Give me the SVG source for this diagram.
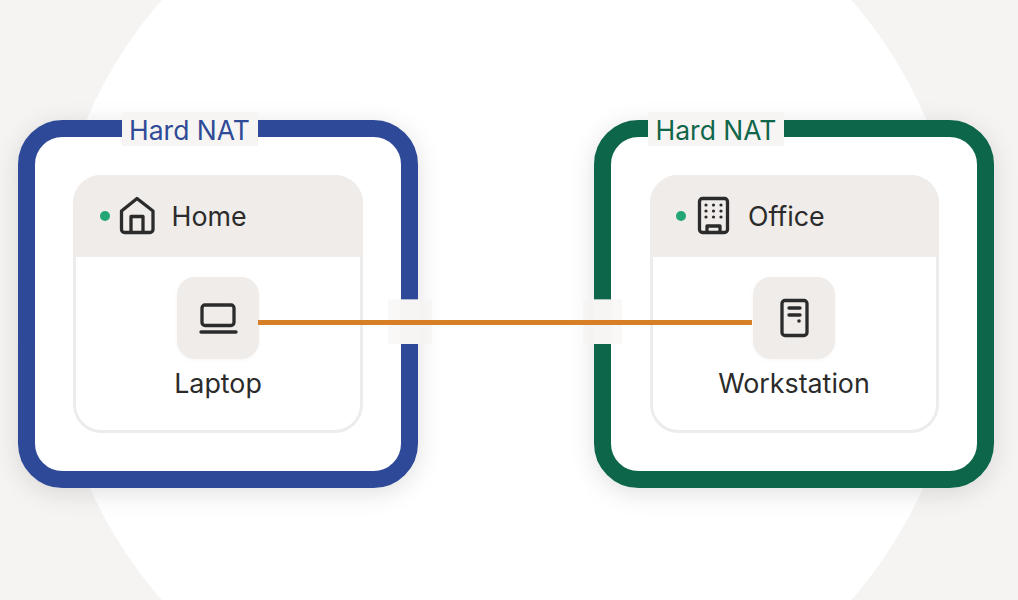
<svg xmlns="http://www.w3.org/2000/svg" width="1018" height="600" viewBox="0 0 1018 600">
<style>
text{font-family:Inter,"Liberation Sans",sans-serif}
.lbl{font-size:26.800px;fill:#2b2b2b}
.nat{font-size:26.500px}
.panel{fill:#fff;stroke:#eeecea;stroke-width:3}
.head{fill:#efecea}
.chip{fill:#efecea}
.ic{fill:none;stroke:#2b2b2b;stroke-width:3.300;stroke-linecap:round;stroke-linejoin:round}
.gap{fill:#f6f5f3}
.veil{fill:#f5f4f2;opacity:.6}
.cut{fill:#f8f7f6}
.dot{fill:#22a673}
</style>
<defs>
<filter id="sh" x="-20%" y="-20%" width="140%" height="140%"><feDropShadow dx="0" dy="5" stdDeviation="12" flood-color="#000" flood-opacity="0.12"/></filter>
<filter id="sh2" x="-20%" y="-20%" width="140%" height="140%"><feDropShadow dx="0" dy="1" stdDeviation="2" flood-color="#000" flood-opacity="0.03"/></filter>
</defs>
<rect width="1018" height="600" fill="#f5f4f2"/>
<circle cx="506.500" cy="300" r="457" fill="#fff"/>
<g id="home-zone">
<rect x="26.500" y="128.500" width="383" height="351" rx="36" fill="#fff" stroke="#2f4a97" stroke-width="17" filter="url(#sh)"/>
<rect class="gap" x="122" y="112" width="136" height="34"/>
<text class="nat" x="189.500" y="139.500" text-anchor="middle" fill="#2f4a97">Hard NAT</text>
<rect class="cut" x="400" y="299.500" width="20" height="44.500"/>
<rect class="veil" x="388" y="299.500" width="44" height="44.500"/>
</g>
<g id="office-zone">
<rect x="602.500" y="128.500" width="383" height="351" rx="36" fill="#fff" stroke="#10664a" stroke-width="17" filter="url(#sh)"/>
<rect class="gap" x="648" y="112" width="136" height="34"/>
<text class="nat" x="716" y="139.500" text-anchor="middle" fill="#10664a">Hard NAT</text>
<rect class="cut" x="593" y="299.500" width="19" height="44.500"/>
<rect class="veil" x="583" y="299.500" width="39" height="44.500"/>
</g>
<g id="home">
<rect class="panel" x="74.500" y="176.500" width="287" height="255" rx="27"/>
<path class="head" d="M73 257V203a28 28 0 0 1 28-28H335a28 28 0 0 1 28 28V257Z"/>
<circle class="dot" cx="105" cy="216" r="5"/>
<path class="ic" d="M121.500 211L137 198.500L153 211V229.500a3 3 0 0 1-3 3H124.500a3 3 0 0 1-3-3ZM131 232.500V216.500H143V232.500"/>
<text class="lbl" x="171.500" y="225.500">Home</text>
</g>
<g id="office">
<rect class="panel" x="651.500" y="176.500" width="286" height="255" rx="27"/>
<path class="head" d="M650 257V203a28 28 0 0 1 28-28H911a28 28 0 0 1 28 28V257Z"/>
<circle class="dot" cx="681" cy="216" r="5"/>
<rect class="ic" x="699.500" y="198.500" width="28" height="34" rx="3"/>
<path class="ic" d="M707 232.500V226H720V232.500"/>
<g fill="#2b2b2b"><circle cx="706" cy="205" r="1.600"/><circle cx="713.500" cy="205" r="1.600"/><circle cx="721" cy="205" r="1.600"/><circle cx="706" cy="211" r="1.600"/><circle cx="713.500" cy="211" r="1.600"/><circle cx="721" cy="211" r="1.600"/><circle cx="706" cy="217" r="1.600"/><circle cx="713.500" cy="217" r="1.600"/><circle cx="721" cy="217" r="1.600"/></g>
<text class="lbl" x="748" y="225.500">Office</text>
</g>
<g id="laptop">
<rect class="chip" x="177" y="277" width="82" height="82" rx="18" filter="url(#sh2)"/>
<path class="ic" d="M202 322.500V308a3 3 0 0 1 3-3H231a3 3 0 0 1 3 3V322.500a3 3 0 0 1-3 3H205a3 3 0 0 1-3-3ZM201 332H236"/>
<text class="lbl" x="218" y="392.500" text-anchor="middle">Laptop</text>
</g>
<g id="workstation">
<rect class="chip" x="753" y="277" width="82" height="82" rx="18" filter="url(#sh2)"/>
<rect class="ic" x="782" y="300.500" width="25" height="35" rx="3"/>
<path class="ic" d="M789 308H800M789 315H800"/>
<circle cx="799" cy="321" r="1.800" fill="#2b2b2b"/>
<text class="lbl" x="794" y="392.500" text-anchor="middle">Workstation</text>
</g>
<g id="connectors">
<line x1="258" y1="322.500" x2="752" y2="322.500" stroke="#d67f26" stroke-width="5"/>
</g>
</svg>
